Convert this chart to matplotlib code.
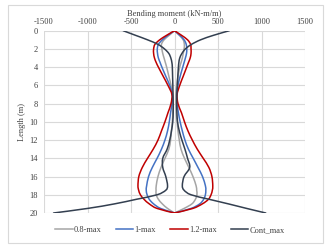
import matplotlib
matplotlib.use("Agg")
import matplotlib.pyplot as plt
from matplotlib.path import Path
from matplotlib.patches import PathPatch, Rectangle
from matplotlib.lines import Line2D

plt.rcParams['font.family'] = ['Liberation Serif', 'DejaVu Serif']

# ---- data ----
depth = [0, 0.5, 1, 1.5, 2, 2.5, 3, 3.5, 4, 5, 6, 7, 8, 9, 10, 11, 12, 13, 14,
         15, 16, 17, 17.5, 18, 18.5, 19, 19.5, 20]

m08_neg = [0, -60, -120, -150, -145, -135, -120, -105, -90, -65, -40, -20, -15, -20,
           -25, -35, -45, -65, -110, -155, -190, -210, -212, -210, -185, -140, -80, 0]
m08_pos = [0, 55, 100, 113, 110, 100, 90, 75, 60, 40, 25, 15, 15, 20,
           30, 40, 55, 75, 115, 165, 212, 248, 255, 258, 240, 200, 110, 0]

m10_neg = [0, -75, -140, -185, -198, -195, -185, -165, -145, -100, -55, -25, -30, -45,
           -60, -80, -110, -150, -200, -255, -298, -320, -325, -315, -290, -240, -160, 0]
m10_pos = [0, 60, 110, 135, 141, 138, 125, 110, 95, 65, 40, 25, 30, 45,
           65, 90, 120, 160, 215, 270, 322, 355, 360, 355, 335, 290, 190, 0]

m12_neg = [0, -90, -170, -225, -240, -240, -230, -210, -185, -130, -75, -30, -40, -75,
           -110, -150, -190, -245, -310, -370, -410, -420, -412, -392, -350, -290, -200, 0]
m12_pos = [0, 80, 150, 185, 190, 190, 180, 160, 140, 100, 60, 30, 40, 80,
           115, 155, 205, 262, 330, 395, 430, 440, 435, 420, 390, 320, 210, 0]

cont_neg = [-590, -450, -310, -190, -115, -65, -42, -30, -25, -22, -19, -17, -15, -15,
            -20, -35, -55, -85, -135, -135, -100, -80, -100, -200, -440, -690, -1000, -1390]
cont_pos = [630, 450, 300, 195, 125, 85, 60, 50, 45, 38, 33, 28, 25, 28,
            35, 55, 85, 120, 150, 175, 110, 90, 110, 190, 400, 620, 830, 1049]

series_names = ['0.8-max', '1-max', '1.2-max', 'Cont_max']
series_colors = ['#a5a5a5', '#4472c4', '#c00000', '#333f50']
series_data = [(m08_neg, m08_pos), (m10_neg, m10_pos), (m12_neg, m12_pos), (cont_neg, cont_pos)]

tick_x = [-1500, -1000, -500, 0, 500, 1000, 1500]
tick_y = list(range(0, 21, 2))


def smooth_path(xs, ys):
    pts = list(zip(xs, ys))
    n = len(pts)
    verts = [pts[0]]
    codes = [Path.MOVETO]
    for i in range(n - 1):
        p0 = pts[i - 1] if i > 0 else pts[i]
        p1 = pts[i]
        p2 = pts[i + 1]
        p3 = pts[i + 2] if i + 2 < n else pts[i + 1]
        c1 = (p1[0] + (p2[0] - p0[0]) / 6.0, p1[1] + (p2[1] - p0[1]) / 6.0)
        c2 = (p2[0] - (p3[0] - p1[0]) / 6.0, p2[1] - (p3[1] - p1[1]) / 6.0)
        verts += [c1, c2, p2]
        codes += [Path.CURVE4, Path.CURVE4, Path.CURVE4]
    return Path(verts, codes)


fig = plt.figure(figsize=(3.27, 2.47), dpi=100)
fig.patch.set_facecolor('white')
fig.add_artist(Rectangle((8 / 327, 1 - 243 / 247), 315 / 327, 238 / 247,
                         transform=fig.transFigure, fill=False,
                         edgecolor='#d9d9d9', linewidth=0.8))

ax = fig.add_axes([44 / 327, 1 - 213 / 247, 261 / 327, (213 - 30.7) / 247])
ax.set_xlim(-1500, 1500)
ax.set_ylim(20, 0)
ax.set_xticks(tick_x)
ax.set_yticks(tick_y)
ax.set_xticklabels([str(t).replace('\u2212', '-') for t in tick_x])
ax.set_yticklabels([str(t) for t in tick_y])
ax.xaxis.tick_top()
ax.xaxis.set_label_position('top')
ax.tick_params(axis='both', length=0, labelsize=6, colors='#404040')
ax.tick_params(axis='x', pad=3.5)
ax.tick_params(axis='y', pad=4.5)
for s in ax.spines.values():
    s.set_visible(False)
ax.grid(True, color='#d9d9d9', linewidth=0.8)
ax.set_axisbelow(True)
ax.set_xlabel('Bending moment (kN-m/m)', fontsize=6, color='#404040', labelpad=1.5)
ax.set_ylabel('Length (m)', fontsize=6, color='#404040', labelpad=2.5)

for (neg, pos), c in zip(series_data, series_colors):
    for vals in (neg, pos):
        ax.add_patch(PathPatch(smooth_path(vals, depth), fill=False,
                               edgecolor=c, linewidth=1.1, zorder=3,
                               capstyle='round', joinstyle='round'))

handles = [Line2D([], [], color=c, linewidth=1.1) for c in series_colors]
fig.legend(handles, series_names, loc='center', bbox_to_anchor=(0.52, 1 - 230 / 247),
           ncol=4, frameon=False, fontsize=6, handlelength=2.1,
           handletextpad=0.15, columnspacing=1.7, labelcolor='#404040')

fig.savefig('out.png', dpi=100)
